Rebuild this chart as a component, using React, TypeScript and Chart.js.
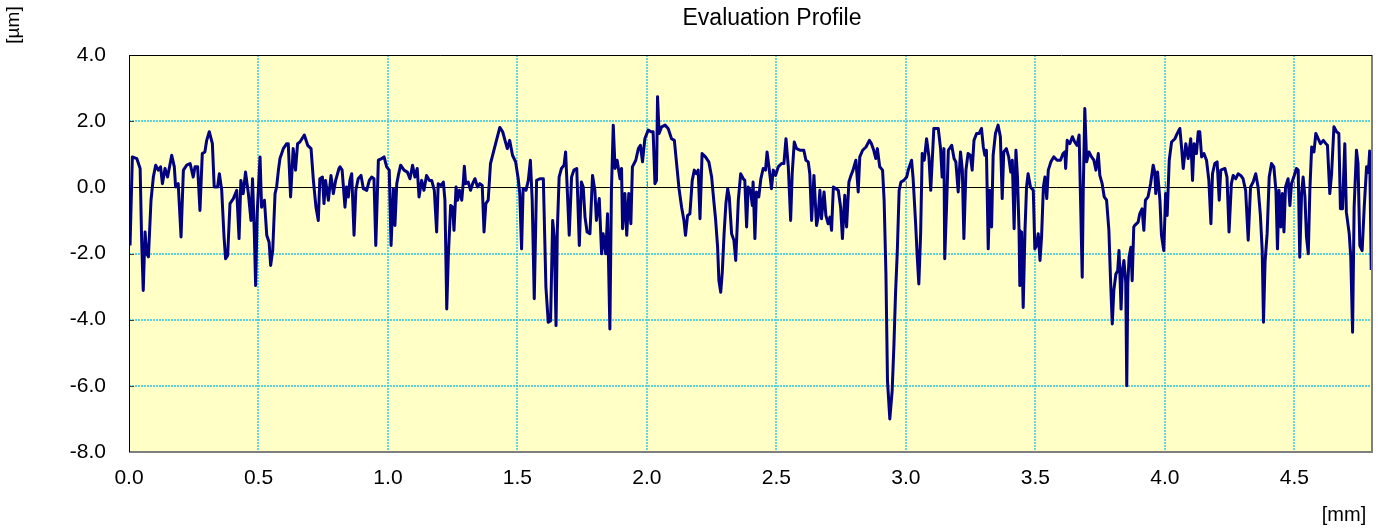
import React, { useEffect, useRef } from "react";
import { Chart, registerables } from "chart.js";

Chart.register(...registerables);

// Evaluation length position [mm]
const profileX = [
  0.004, 0.013, 0.030, 0.043, 0.049, 0.055, 0.062, 0.068, 0.075, 0.085, 0.094, 0.103, 0.113, 0.122, 0.129, 0.139,
  0.149, 0.165, 0.175, 0.180, 0.190, 0.201, 0.210, 0.223, 0.236, 0.248, 0.255, 0.265, 0.274, 0.283, 0.293, 0.300,
  0.310, 0.322, 0.329, 0.342, 0.349, 0.358, 0.367, 0.373, 0.381, 0.390, 0.403, 0.416, 0.425, 0.432, 0.441, 0.450,
  0.461, 0.471, 0.477, 0.484, 0.489, 0.495, 0.506, 0.512, 0.523, 0.532, 0.541, 0.547, 0.555, 0.564, 0.570, 0.577,
  0.583, 0.596, 0.609, 0.615, 0.624, 0.634, 0.643, 0.651, 0.660, 0.677, 0.690, 0.703, 0.712, 0.722, 0.731, 0.737,
  0.747, 0.753, 0.759, 0.770, 0.780, 0.789, 0.798, 0.811,
  0.815, 0.823, 0.834, 0.840, 0.847, 0.853, 0.860, 0.869, 0.876, 0.885, 0.896, 0.905, 0.918, 0.928, 0.937, 0.946,
  0.953, 0.963, 0.976, 0.985, 0.995, 1.005, 1.012, 1.021, 1.027, 1.034, 1.040, 1.049, 1.062, 1.075, 1.085, 1.095,
  1.104, 1.113, 1.120, 1.130, 1.139, 1.149, 1.160, 1.169, 1.179, 1.188, 1.194, 1.205, 1.214, 1.220, 1.227, 1.233,
  1.242, 1.250, 1.255, 1.263, 1.269, 1.276, 1.285, 1.291, 1.295, 1.300, 1.310, 1.319, 1.327, 1.336, 1.346, 1.355,
  1.364, 1.371, 1.378, 1.387, 1.396, 1.409, 1.419, 1.432, 1.443, 1.452, 1.461, 1.470, 1.481, 1.493, 1.503, 1.509,
  1.516, 1.522, 1.533, 1.542, 1.550, 1.557, 1.565, 1.574, 1.587, 1.600,
  1.610, 1.619, 1.628, 1.636, 1.642, 1.649, 1.654, 1.661, 1.670, 1.680, 1.686, 1.692, 1.700, 1.709, 1.718, 1.729,
  1.739, 1.747, 1.754, 1.761, 1.769, 1.780, 1.790, 1.799, 1.805, 1.816, 1.825, 1.831, 1.841, 1.848, 1.857, 1.863,
  1.870, 1.877, 1.885, 1.896, 1.902, 1.906, 1.915, 1.922, 1.930, 1.938, 1.944, 1.957, 1.967, 1.975, 1.983, 1.992,
  2.005, 2.016, 2.024, 2.031, 2.037, 2.041, 2.047, 2.057, 2.070, 2.082, 2.095, 2.106, 2.114, 2.124, 2.134, 2.143,
  2.149, 2.157, 2.166, 2.175, 2.183, 2.191, 2.198, 2.205, 2.213, 2.226, 2.239, 2.250, 2.258, 2.265, 2.273, 2.278,
  2.285, 2.291, 2.298, 2.305, 2.312, 2.318, 2.327, 2.336, 2.343,
  2.353, 2.362, 2.372, 2.378, 2.385, 2.391, 2.400, 2.407, 2.410, 2.417, 2.423, 2.432, 2.440, 2.449, 2.458, 2.464,
  2.472, 2.481, 2.488, 2.497, 2.507, 2.520, 2.529, 2.537, 2.546, 2.555, 2.561, 2.569, 2.578, 2.593, 2.606, 2.614,
  2.623, 2.629, 2.636, 2.645, 2.655, 2.661, 2.668, 2.674, 2.684, 2.691, 2.700, 2.707, 2.713, 2.720, 2.730, 2.739,
  2.748, 2.755, 2.764, 2.771, 2.780, 2.788, 2.796, 2.807, 2.816, 2.822, 2.833, 2.846, 2.859, 2.867, 2.876, 2.884,
  2.890, 2.899, 2.910, 2.916, 2.923, 2.929, 2.938, 2.947, 2.954, 2.960, 2.967, 2.974, 2.981, 2.992, 3.003, 3.011,
  3.022, 3.028, 3.037, 3.044, 3.050, 3.057, 3.063, 3.071, 3.080, 3.089, 3.096,
  3.108, 3.125, 3.134, 3.140, 3.147, 3.150, 3.157, 3.164, 3.177, 3.186, 3.193, 3.202, 3.211, 3.218, 3.224, 3.232,
  3.240, 3.249, 3.256, 3.263, 3.273, 3.283, 3.292, 3.299, 3.305, 3.311, 3.318, 3.324, 3.331, 3.337, 3.346, 3.356,
  3.365, 3.372, 3.378, 3.388, 3.397, 3.405, 3.411, 3.418, 3.425, 3.431, 3.437, 3.440, 3.447, 3.453, 3.460, 3.466,
  3.472, 3.481, 3.492, 3.498, 3.505, 3.511, 3.518, 3.524, 3.531, 3.537, 3.544, 3.550, 3.560, 3.571, 3.584, 3.597,
  3.607, 3.614, 3.617, 3.623, 3.633, 3.643, 3.652, 3.661, 3.669, 3.676, 3.681, 3.685, 3.691, 3.698, 3.707, 3.717,
  3.726, 3.734, 3.743, 3.749, 3.758, 3.766, 3.775, 3.784, 3.790, 3.797, 3.803, 3.811, 3.818, 3.823, 3.827, 3.831,
  3.836, 3.842, 3.849, 3.853, 3.857, 3.862, 3.869, 3.874, 3.880,
  3.884, 3.897, 3.903, 3.912, 3.919, 3.925, 3.935, 3.945, 3.955, 3.961, 3.965, 3.972, 3.981, 3.987, 3.996, 4.003,
  4.009, 4.017, 4.026, 4.039, 4.048, 4.058, 4.065, 4.071, 4.081, 4.090, 4.100, 4.107, 4.113, 4.122, 4.129, 4.135,
  4.142, 4.151, 4.161, 4.170, 4.178, 4.184, 4.193, 4.202, 4.210, 4.216, 4.232, 4.240, 4.248, 4.257, 4.264, 4.274,
  4.283, 4.293, 4.302, 4.312, 4.322, 4.331, 4.341, 4.351, 4.360, 4.369, 4.376, 4.381, 4.387, 4.395, 4.403, 4.412,
  4.421, 4.429, 4.435, 4.441, 4.448, 4.454, 4.460, 4.466, 4.476, 4.483, 4.489, 4.498, 4.508, 4.515, 4.521, 4.528,
  4.534, 4.541, 4.547, 4.554, 4.560, 4.567, 4.576, 4.583, 4.592, 4.601, 4.612, 4.622, 4.628, 4.637, 4.644, 4.653,
  4.663, 4.672, 4.678, 4.686, 4.695, 4.701, 4.712, 4.718, 4.725, 4.731, 4.740, 4.746, 4.753, 4.762, 4.770, 4.779,
  4.786, 4.791, 4.797,
];

// Profile height [µm]
const profileY = [
  -1.76, 0.92, 0.87, 0.57, -1.66, -3.12, -1.35, -2.00, -2.10, -0.39, 0.31, 0.67, 0.52, 0.62, 0.11, 0.57,
  0.31, 0.97, 0.62, 0.01, 0.11, -1.50, 0.52, 0.67, 0.72, 0.31, 0.62, 0.62, -0.70, 1.02, 1.07, 1.42,
  1.68, 1.32, 0.01, 0.01, 0.41, -0.09, -1.50, -2.16, -2.06, -0.49, -0.34, -0.09, -1.55, 0.21, -0.19, 0.46,
  -0.19, -1.00, 0.26, -1.40, -2.97, -0.80, 0.92, -0.60, -0.39, -1.45, -1.66, -2.36, -1.90, -0.19, 0.01, 0.52,
  0.87, 1.17, 1.32, 1.32, -0.29, 1.17, 0.52, 1.32, 1.37, 1.58, 1.27, 1.17, 0.21, -0.60, -1.00, 0.26,
  0.31, -0.49, 0.21, -0.39, 0.36, -0.19, 0.21, 0.57,
  0.62, 0.52, -0.60, 0.01, -0.29, 0.21, 0.41, -1.45, -0.09, 0.26, 0.36, -0.04, -0.09, 0.21, 0.31, 0.26,
  -1.76, 0.82, 0.87, 0.92, 0.62, 0.52, -1.76, -0.04, -1.15, 0.11, 0.36, 0.67, 0.52, 0.46, 0.26, 0.67,
  0.31, 0.57, -0.29, 0.21, -0.09, 0.36, 0.21, 0.21, -0.09, -1.35, 0.11, 0.06, 0.16, -0.39, -3.68, -2.11,
  -0.55, -0.60, -1.30, 0.01, -0.39, -0.09, -0.39, 0.16, 0.64, 0.11, 0.16, -0.09, 0.11, 0.26, 0.01, 0.11,
  0.06, -1.35, -0.49, -0.39, 0.72, 1.12, 1.42, 1.81, 1.68, 1.42, 1.17, 1.42, 0.97, 0.77, 0.26, -0.19,
  -1.86, -0.04, -0.09, 0.21, 0.82, -0.39, -3.37, 0.21, 0.26, 0.26,
  -3.02, -4.08, -4.03, -1.00, -1.50, -4.18, -1.30, 0.31, 0.57, 0.67, 1.07, 0.01, -1.45, 0.31, 0.52, 0.57,
  -1.76, 0.16, 0.01, -0.90, -1.35, -1.40, 0.36, -0.09, -1.00, -0.34, -2.01, -1.40, -2.01, -0.80, -4.28, -0.09,
  1.88, 0.57, 0.82, 0.26, 0.57, -1.25, -0.19, -1.45, -0.19, -1.10, 0.62, 0.82, 1.17, 1.27, 0.77, 1.47,
  1.73, 1.68, 1.68, 0.11, 0.21, 2.74, 1.63, 1.83, 1.88, 1.78, 1.47, 1.42, 0.77, -0.04, -0.60, -1.00,
  -1.45, -0.85, -0.80, 0.21, 0.52, 0.41, 0.52, -0.95, 1.02, 0.92, 0.77, 0.31, -0.39, -0.95, -1.81, -2.82,
  -3.17, -2.57, -1.40, -0.49, -0.04, -0.29, -1.40, -1.60, -2.21,
  -0.39, 0.41, 0.26, 0.21, -1.20, 0.01, -0.09, -0.55, 0.16, -1.55, -0.14, -0.29, 0.26, 0.57, 0.52, 1.07,
  0.57, -0.04, 0.52, 0.36, 0.62, 0.72, 0.72, 1.47, 0.62, -1.00, 0.41, 1.37, 1.17, 1.12, 1.12, 0.82,
  0.77, 0.41, -1.00, 0.36, -1.15, -0.90, -0.09, -0.95, -0.14, -0.85, -1.10, -0.90, -1.30, 0.01, -0.04, -0.09,
  -0.60, -1.55, -0.24, -1.20, 0.16, 0.36, 0.52, 0.82, -0.14, 0.92, 1.12, 1.22, 1.42, 1.32, 1.12, 0.87,
  1.17, 0.62, 0.52, -0.39, -2.62, -5.85, -7.00, -6.15, -4.74, -3.22, -1.91, -0.09, 0.16, 0.21, 0.31, 0.57,
  0.82, 0.26, -1.00, -2.11, -2.92, -1.40, 1.02, 0.82, 1.47, 0.92, -0.09,
  1.78, 1.78, 1.17, 0.31, 1.17, -2.16, -0.60, 1.12, 1.27, 0.87, 0.77, -0.14, 1.07, 0.52, -1.55, 0.52,
  1.02, 0.97, 0.52, 1.42, 1.63, 1.63, 1.78, 1.22, 0.97, 1.12, -1.86, -0.09, -1.20, 0.97, 1.63, 1.88,
  1.53, -0.34, 1.07, 1.17, 0.92, 0.46, 0.82, -1.25, 1.12, 0.31, -1.30, -2.97, -1.35, -3.63, -1.30, 0.01,
  0.41, 0.01, -0.09, -1.86, -1.76, -1.40, -2.21, -1.50, 0.01, 0.31, -0.34, 0.52, 0.77, 0.92, 0.82, 0.82,
  1.02, 1.07, 0.57, 1.42, 1.32, 1.53, 1.37, 1.27, 1.58, -0.90, -2.72, -0.09, 2.38, 0.77, 1.07, 0.92,
  0.82, 0.52, 1.02, 0.36, 0.11, -0.29, -0.39, -1.30, -2.72, -4.13, -3.12, -2.62, -2.52, -1.91, -2.72, -3.68,
  -2.52, -2.21, -2.87, -6.00, -2.92, -2.11, -1.81, -2.82, -1.20,
  -1.15, -1.05, -0.80, -0.65, -1.30, -0.39, -0.29, 0.11, 0.67, 0.46, -0.19, 0.46, -0.39, -1.45, -1.91, -0.19,
  -0.85, 0.82, 1.37, 1.47, 1.63, 1.78, 1.17, 0.57, 1.32, 0.87, 1.47, 0.21, 1.32, 1.02, 1.68, 1.68,
  0.92, 1.02, 0.82, 0.21, -1.10, 0.41, 0.72, 0.77, -0.39, 0.52, 0.57, 0.31, -1.35, 0.11, 0.36, 0.26,
  0.41, 0.36, 0.26, -0.09, -1.60, 0.01, 0.16, 0.41, 0.01, -0.85, -1.91, -4.08, -2.26, -1.40, 0.31, 0.72,
  0.62, -0.09, -1.86, -0.09, -1.20, -0.19, -1.35, 0.01, 0.26, -0.55, 0.11, 0.31, 0.57, 0.52, -2.11, -0.19,
  0.31, -0.29, -1.50, -2.01, -0.09, 1.22, 1.07, 1.63, 1.47, 1.32, 1.42, 1.32, 1.27, -0.19, 0.41, 1.83,
  1.68, 1.63, -0.65, -0.65, 1.32, -0.75, -1.40, -2.11, -4.38, -0.60, 1.12, 0.72, -1.76, -1.91, -0.60, 0.62,
  0.45, 1.10, -2.50,
];

const xTickValues = [0, 0.5, 1.0, 1.5, 2.0, 2.5, 3.0, 3.5, 4.0, 4.5];
const yTickValues = [-8, -6, -4, -2, 0, 2, 4];

const chartTitle = "Evaluation Profile";
const yUnitLabel = "[µm]";
const xUnitLabel = "[mm]";

const FONT = '"Liberation Sans", Arial, Helvetica, sans-serif';
const GRID_COLOR = "#2CC6E6";

export default function App() {
  const canvasRef = useRef<HTMLCanvasElement | null>(null);

  useEffect(() => {
    document.body.style.margin = "0";
    const canvas = canvasRef.current;
    if (!canvas) return;

    const decor = {
      id: "decor",
      beforeDraw(chart: any) {
        const { ctx, chartArea: a } = chart;
        ctx.save();
        ctx.fillStyle = "#FFFFC6";
        ctx.fillRect(a.left, a.top, a.right - a.left, a.bottom - a.top);
        ctx.restore();
      },
      beforeDatasetsDraw(chart: any) {
        const { ctx, chartArea: a, scales } = chart;
        ctx.save();
        // dotted cyan grid lines, placed through the scales
        ctx.strokeStyle = GRID_COLOR;
        ctx.lineWidth = 1.4;
        ctx.setLineDash([2, 1]);
        for (const v of xTickValues) {
          if (v === 0) continue;
          const px = Math.round(scales.x.getPixelForValue(v));
          ctx.beginPath();
          ctx.moveTo(px, a.top);
          ctx.lineTo(px, a.bottom);
          ctx.stroke();
        }
        for (const v of yTickValues) {
          if (v === 0 || v === 4 || v === -8) continue;
          const py = Math.round(scales.y.getPixelForValue(v));
          ctx.beginPath();
          ctx.moveTo(a.left, py);
          ctx.lineTo(a.right, py);
          ctx.stroke();
        }
        ctx.setLineDash([]);

        const y0 = Math.round(scales.y.getPixelForValue(0)) + 0.5;
        ctx.strokeStyle = "#000000";
        ctx.lineWidth = 1;
        ctx.beginPath();
        ctx.moveTo(a.left, y0);
        ctx.lineTo(a.right - 6, y0);
        ctx.stroke();
        // small tick marks on the zero line
        ctx.strokeStyle = "#808080";
        for (const v of xTickValues) {
          if (v === 0) continue;
          const px = Math.round(scales.x.getPixelForValue(v)) + 0.5;
          ctx.beginPath();
          ctx.moveTo(px, y0);
          ctx.lineTo(px, y0 - 6);
          ctx.stroke();
        }
        // small tick marks on the y axis
        ctx.strokeStyle = "#404040";
        for (const v of yTickValues) {
          const py = Math.round(scales.y.getPixelForValue(v)) + 0.5;
          ctx.beginPath();
          ctx.moveTo(a.left, py);
          ctx.lineTo(a.left + 5, py);
          ctx.stroke();
        }
        ctx.restore();
      },
      afterDatasetsDraw(chart: any) {
        const { ctx, chartArea: a } = chart;
        ctx.save();
        ctx.lineWidth = 2;
        ctx.strokeStyle = "#7F7F7F";
        ctx.beginPath();
        ctx.moveTo(a.right, a.top);
        ctx.lineTo(a.right, a.bottom);
        ctx.lineTo(a.left, a.bottom);
        ctx.stroke();
        ctx.lineWidth = 1;
        ctx.strokeStyle = "#000000";
        ctx.beginPath();
        ctx.moveTo(a.left + 0.5, a.bottom);
        ctx.lineTo(a.left + 0.5, a.top + 0.5);
        ctx.lineTo(a.right, a.top + 0.5);
        ctx.stroke();
        ctx.restore();
      },
      afterDraw(chart: any) {
        const { ctx } = chart;
        ctx.save();
        ctx.fillStyle = "#000000";
        ctx.font = `23px ${FONT}`;
        ctx.textAlign = "center";
        ctx.textBaseline = "alphabetic";
        ctx.fillText(chartTitle, 772, 25);

        ctx.font = `20px ${FONT}`;
        ctx.fillText(xUnitLabel, 1344, 521);

        ctx.translate(19, 25);
        ctx.rotate(-Math.PI / 2);
        ctx.font = `19px ${FONT}`;
        ctx.fillText(yUnitLabel, 0, 0);
        ctx.restore();
      },
    };

    const chart = new Chart(canvas, {
      type: "line",
      data: {
        datasets: [
          {
            data: profileX.map((x, i) => ({ x, y: profileY[i] })),
            borderColor: "#000080",
            borderWidth: 3,
            pointRadius: 0,
            tension: 0,
            fill: false,
            borderJoinStyle: "round",
          },
        ],
      },
      options: {
        animation: false,
        responsive: false,
        events: [],
        layout: { padding: { left: 0, top: 55, right: 10, bottom: 0 } },
        plugins: {
          legend: { display: false },
          title: { display: false },
          tooltip: { enabled: false },
        },
        scales: {
          x: {
            type: "linear",
            min: 0,
            max: 4.8,
            afterBuildTicks: (s: any) => {
              s.ticks = xTickValues.map((v) => ({ value: v }));
            },
            afterFit: (s: any) => {
              s.height = 79;
            },
            ticks: {
              autoSkip: false,
              maxRotation: 0,
              padding: 14,
              color: "#000000",
              font: { family: FONT, size: 21 },
              callback: (v: any) => Number(v).toFixed(1),
            },
            grid: { display: false, drawTicks: false },
            border: { display: false },
          },
          y: {
            type: "linear",
            min: -8,
            max: 4,
            afterBuildTicks: (s: any) => {
              s.ticks = yTickValues.map((v) => ({ value: v }));
            },
            afterFit: (s: any) => {
              s.width = 129;
            },
            ticks: {
              autoSkip: false,
              padding: 23,
              color: "#000000",
              font: { family: FONT, size: 21 },
              callback: (v: any) => Number(v).toFixed(1),
            },
            grid: { display: false, drawTicks: false },
            border: { display: false },
          },
        },
      },
      plugins: [decor],
    } as any);

    return () => chart.destroy();
  }, []);

  return (
    <div style={{ position: "fixed", left: 0, top: 0, width: 1382, height: 531 }}>
      <canvas ref={canvasRef} width={1382} height={531} style={{ display: "block" }} />
    </div>
  );
}
